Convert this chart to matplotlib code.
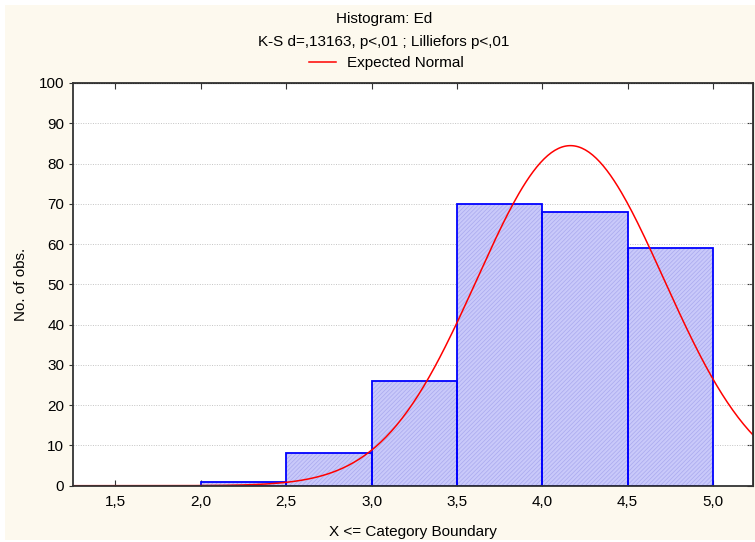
import numpy as np
import matplotlib
matplotlib.use("Agg")
import matplotlib.pyplot as plt
from matplotlib.patches import Rectangle

plt.rcParams['font.family'] = ['Liberation Sans', 'DejaVu Sans']
plt.rcParams['hatch.linewidth'] = 0.5

# histogram data
bin_left = [2.0, 2.5, 3.0, 3.5, 4.0, 4.5]
bin_width = 0.5
counts = [1, 8, 26, 70, 68, 59]

# expected normal parameters
norm_mean = 4.165
norm_sd = 0.548
n_obs = sum(counts)

x_ticks = [1.5, 2.0, 2.5, 3.0, 3.5, 4.0, 4.5, 5.0]
x_labels = ["1,5", "2,0", "2,5", "3,0", "3,5", "4,0", "4,5", "5,0"]
y_ticks = list(range(0, 101, 10))

FS = 11
W, H = 755, 542
fig = plt.figure(figsize=(W / 100, H / 100), dpi=100, facecolor='white')
# cream background panel
fig.patches.append(Rectangle((5 / W, 2 / H), 1 - 5 / W, 1 - 7 / H, transform=fig.transFigure,
                             facecolor='#fdf9ee', edgecolor='none', zorder=-5))

ax = fig.add_axes([72.7 / W, (H - 485.7) / H, (753 - 72.7) / W, (485.7 - 83) / H])
ax.set_facecolor('white')

# fill with a fine light hatch, then the blue outline on top
ax.bar(bin_left, counts, width=bin_width, align='edge', facecolor='#c9c9fa', edgecolor='#a9a9ee',
       linewidth=0, hatch='////////', zorder=2)
ax.bar(bin_left, counts, width=bin_width, align='edge', facecolor='none', edgecolor='#0000ff',
       linewidth=1.3, zorder=2.5)

xs = np.linspace(1.2, 5.4, 400)
ys = n_obs * bin_width * np.exp(-0.5 * ((xs - norm_mean) / norm_sd) ** 2) / (norm_sd * np.sqrt(2 * np.pi))
line, = ax.plot(xs, ys, color='#ff0000', linewidth=1.1, zorder=3, label='Expected Normal')

ax.set_xlim(1.25, 5.234)
ax.set_ylim(0, 100)
ax.set_xticks(x_ticks)
ax.set_xticklabels(x_labels, fontsize=FS)
ax.set_yticks(y_ticks)
ax.tick_params(axis='y', labelsize=FS, direction='out', length=3, color='#333333', pad=3)
ax.tick_params(axis='x', direction='in', length=4, color='#333333', pad=7)
ax.yaxis.grid(True, linestyle=(0, (1, 1.5)), color='#c4c4c4', linewidth=0.7, zorder=1)
ax.set_axisbelow(True)

for sp in ax.spines.values():
    sp.set_color('#333333')
    sp.set_linewidth(1.3)
    sp.set_zorder(4)

# inward ticks on top and right side
top = ax.secondary_xaxis('top')
top.set_xticks(x_ticks)
top.tick_params(direction='in', length=4, labeltop=False, color='#333333')
right = ax.secondary_yaxis('right')
right.set_yticks(y_ticks)
right.tick_params(direction='in', length=4, labelright=False, color='#333333')

ax.set_xlabel('X <= Category Boundary', fontsize=FS, labelpad=11)
ax.set_ylabel('No. of obs.', fontsize=FS, labelpad=8)

fig.text(384 / W, 1 - 19 / H, 'Histogram: Ed', ha='center', va='center', fontsize=FS)
fig.text(384 / W, 1 - 42 / H, 'K-S d=,13163, p<,01 ; Lilliefors p<,01', ha='center', va='center', fontsize=FS)
fig.legend(handles=[line], loc='center', bbox_to_anchor=(386 / W, 1 - 63 / H), frameon=False,
           fontsize=FS, handlelength=1.8, handletextpad=0.7)

fig.savefig('out.png', dpi=100, facecolor=fig.get_facecolor())
